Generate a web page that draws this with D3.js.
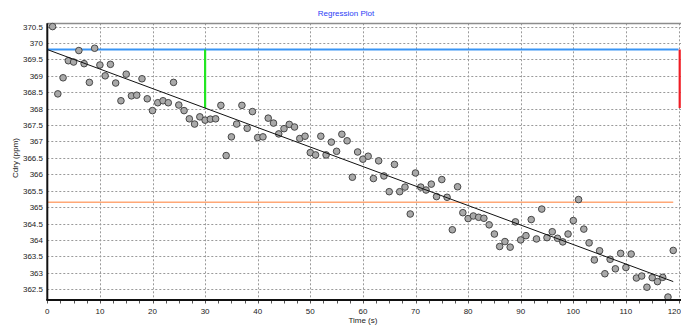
<!DOCTYPE html>
<html>
<head>
<meta charset="utf-8">
<script src="https://cdn.jsdelivr.net/npm/d3@7"></script>
<style>
  html, body { margin: 0; padding: 0; background: #fff; }
  svg { display: block; font-family: "Liberation Sans", Arial, sans-serif; }
</style>
</head>
<body>
<svg id="chart" width="681" height="326"></svg>
<script>
// Sample times (s)
const times = d3.range(1, 120);
// Measured dry CO2 concentration (ppm)
const cdry = [
  370.50, 368.45, 368.94, 369.46, 369.42, 369.77, 369.37, 368.80, 369.84, 369.33,
  369.00, 369.35, 368.78, 368.24, 369.05, 368.39, 368.41, 368.91, 368.30, 367.94,
  368.18, 368.24, 368.18, 368.80, 368.11, 367.94, 367.69, 367.53, 367.75, 367.65,
  367.68, 367.69, 368.10, 366.57, 367.14, 367.53, 368.10, 367.40, 367.91, 367.12,
  367.14, 367.71, 367.56, 367.23, 367.39, 367.52, 367.44, 367.09, 367.16, 366.66,
  366.59, 367.16, 366.59, 366.98, 366.70, 367.22, 367.02, 365.91, 366.68, 366.46,
  366.55, 365.87, 366.41, 365.95, 365.47, 366.30, 365.47, 365.61, 364.79, 366.04,
  365.61, 365.52, 365.70, 365.32, 365.84, 365.30, 364.31, 365.62, 364.83, 364.65,
  364.73, 364.69, 364.66, 364.46, 364.18, 363.80, 363.95, 363.78, 364.55, 364.00,
  364.13, 364.62, 364.03, 364.94, 364.07, 364.25, 364.05, 363.94, 364.18, 364.59,
  365.23, 364.33, 363.91, 363.39, 363.67, 362.97, 363.41, 363.12, 363.59, 363.16,
  363.57, 362.84, 362.90, 362.56, 362.85, 362.73, 362.86, 362.26, 363.68
];
// Fitted line: [intercept (ppm), slope (ppm/s)]
const fit = [369.80, -0.0594];
// Reference level (ppm)
const refLevel = [365.15];
// Span over which the drop is marked (s)
const dropSpan = [0, 30];
// Axis ticks
const xTicks = d3.range(0, 121, 10);
const xMinorTicks = d3.range(0, 120.1, 2.5);
const yTicks = d3.range(362.5, 370.51, 0.5);

const svg = d3.select("#chart");
const W = 681, H = 326;
const plotL = 47.3, plotR = 678.5, plotT = 23.3, plotB = 300;

const x = d3.scaleLinear().domain([0, 120]).range([plotL, plotR]);
const y = d3.scaleLinear().domain([362.17, 370.6]).range([plotB, plotT]);
const fitAt = t => fit[0] + fit[1] * t;
const px = v => Math.round(v) + 0.5;

// Grid
const grid = svg.append("g");
grid.selectAll("line.v").data(xTicks.filter(d => d > 0)).join("line")
  .attr("class", "v")
  .attr("x1", d => px(x(d))).attr("x2", d => px(x(d)))
  .attr("y1", plotT).attr("y2", plotB)
  .attr("stroke", "#9a9a9a").attr("stroke-dasharray", "2,2");
grid.selectAll("line.h").data(yTicks).join("line")
  .attr("class", "h")
  .attr("x1", plotL).attr("x2", W)
  .attr("y1", d => px(y(d))).attr("y2", d => px(y(d)))
  .attr("stroke", "#9a9a9a").attr("stroke-dasharray", "2,2");

// Top frame line
svg.append("line").attr("x1", plotL).attr("x2", W).attr("y1", px(plotT)).attr("y2", px(plotT))
  .attr("stroke", "#8c8c8c").attr("stroke-width", 1.5);

// Intercept level
svg.append("line")
  .attr("x1", x(0)).attr("x2", x(120))
  .attr("y1", y(fit[0])).attr("y2", y(fit[0]))
  .attr("stroke", "#3a95f5").attr("stroke-width", 2);

// Reference level
svg.append("line")
  .attr("x1", x(0)).attr("x2", x(d3.max(times)))
  .attr("y1", y(refLevel[0])).attr("y2", y(refLevel[0]))
  .attr("stroke", "#ffa877").attr("stroke-width", 1.5);

// Drop over the first 30 s
const drop = fitAt(dropSpan[0]) - fitAt(dropSpan[1]);
svg.append("line")
  .attr("x1", x(dropSpan[1])).attr("x2", x(dropSpan[1]))
  .attr("y1", y(fit[0])).attr("y2", y(fitAt(dropSpan[1])))
  .attr("stroke", "#22e622").attr("stroke-width", 2.2);
// Same drop marked at the right edge
svg.append("line")
  .attr("x1", x(120) + 1.2).attr("x2", x(120) + 1.2)
  .attr("y1", y(fit[0])).attr("y2", y(fit[0] - drop))
  .attr("stroke", "#f01c24").attr("stroke-width", 2.2);

// Data points
svg.append("g").selectAll("circle").data(times).join("circle")
  .attr("cx", d => x(d)).attr("cy", (d, i) => y(cdry[i]))
  .attr("r", 3.3)
  .attr("fill", "#a9a9a9").attr("stroke", "#474747").attr("stroke-width", 1);

// Regression line
svg.append("line")
  .attr("x1", x(0)).attr("x2", x(d3.max(times)))
  .attr("y1", y(fitAt(0))).attr("y2", y(fitAt(d3.max(times))))
  .attr("stroke", "#111").attr("stroke-width", 1);

// Axes
const xAxis = svg.append("g").attr("transform", `translate(0,${plotB})`);
xAxis.selectAll("line").data(xMinorTicks).join("line")
  .attr("x1", d => px(x(d))).attr("x2", d => px(x(d)))
  .attr("y1", 0).attr("y2", 3.5)
  .attr("stroke", "#555");
xAxis.selectAll("text").data(xTicks).join("text")
  .attr("x", d => d === 120 ? W : x(d)).attr("y", 13.5)
  .attr("text-anchor", d => d === 120 ? "end" : "middle")
  .attr("font-size", 8).attr("fill", "#222")
  .text(d => d);
svg.append("line").attr("x1", plotL - 1).attr("x2", W).attr("y1", plotB).attr("y2", plotB)
  .attr("stroke", "#111").attr("stroke-width", 2);

const yAxis = svg.append("g");
yAxis.selectAll("text").data(yTicks).join("text")
  .attr("x", 43).attr("y", d => y(d) + 3)
  .attr("text-anchor", "end").attr("font-size", 8).attr("fill", "#222")
  .text(d => String(+d.toFixed(1)));
svg.append("line").attr("x1", plotL).attr("x2", plotL).attr("y1", plotT).attr("y2", plotB)
  .attr("stroke", "#111").attr("stroke-width", 2);

// Titles
svg.append("text").attr("x", 346).attr("y", 16)
  .attr("text-anchor", "middle").attr("font-size", 8).attr("fill", "#2a3cf5")
  .text("Regression Plot");
svg.append("text").attr("x", (plotL + plotR) / 2).attr("y", 323)
  .attr("text-anchor", "middle").attr("font-size", 8).attr("fill", "#222")
  .text("Time (s)");
svg.append("text")
  .attr("transform", `translate(18,158) rotate(-90)`)
  .attr("text-anchor", "middle").attr("font-size", 8).attr("fill", "#222")
  .text("Cdry (ppm)");
</script>
</body>
</html>
